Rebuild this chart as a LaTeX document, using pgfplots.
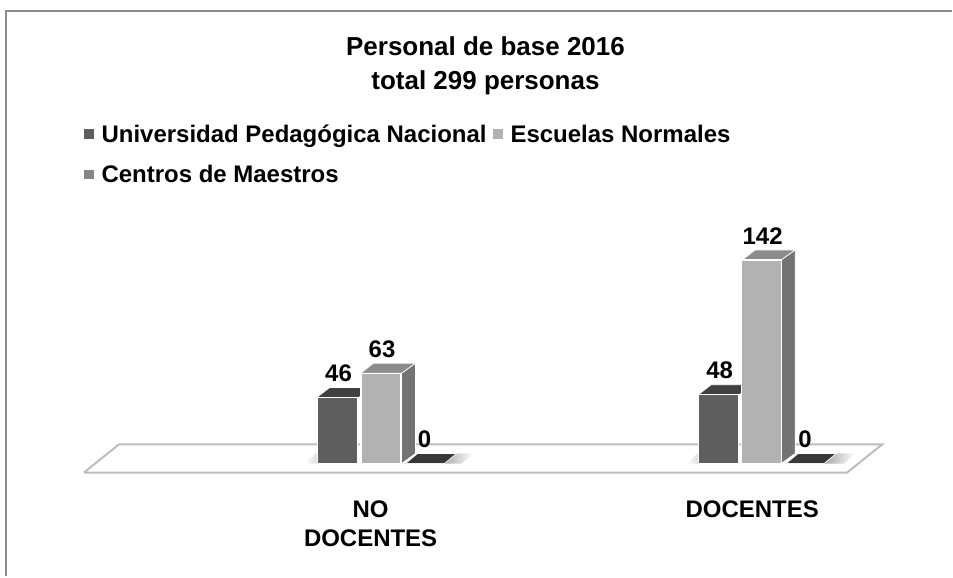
\documentclass[border=0pt]{standalone}
\usepackage{pgfplots}
\pgfplotsset{compat=1.18}
\usepackage{fontspec}
\setmainfont{Liberation Sans}
\definecolor{cA}{gray}{0.37}
\definecolor{cAt}{gray}{0.25}
\definecolor{cB}{gray}{0.70}
\definecolor{cBt}{gray}{0.55}
\definecolor{cBs}{gray}{0.45}
\definecolor{cC}{gray}{0.52}
\definecolor{cZ}{gray}{0.22}
\definecolor{fl}{gray}{0.74}
\definecolor{fr}{gray}{0.55}
\newcommand{\lab}{\fontsize{18pt}{21.5pt}\selectfont\bfseries}
\newcommand{\ttl}{\fontsize{19.5pt}{21.5pt}\selectfont\bfseries}
\newcommand{\st}{\rule[-4pt]{0pt}{18pt}}
\pgfplotsset{vals/.style={nodes near coords={\lab\pgfmathprintnumber[assume math mode=true]{\pgfplotspointmeta}},
  every node near coord/.append style={anchor=center, yshift=18pt, xshift=0.7pt, text=black}}}
\begin{document}
\begin{tikzpicture}
\begin{axis}[
  scale only axis, width=714.75pt, height=432.75pt,
  xmin=0, xmax=953, ymin=-78.74, ymax=323.35,
  hide axis, clip=false,
  ybar, bar shift=0pt, bar width=30pt,
  legend columns=2,
  legend style={at={(axis cs:84,215.7)}, anchor=west, draw=none, fill=none, font=\lab,
    inner sep=0pt, outer sep=0pt, row sep=10.75pt,
    /tikz/every even column/.append style={column sep=2.75pt}},
  legend cell align=left,
  legend image code/.code={\fill[#1,draw=none] (0pt,-3.7pt) rectangle (7.5pt,3.7pt);
    \path[draw=none,fill=none] (0pt,0pt) -- (11.25pt,0pt);},
]
\path (axis cs:0,-78.74) rectangle (axis cs:953,323.35);
% frame
\addplot[sharp plot, fr, line width=1.5pt, forget plot] coordinates {(6.5,-78.74) (6.5,315.7) (953,315.7)};
% floor
\addplot[sharp plot, draw=fl, line width=1.5pt, fill=white, forget plot] coordinates {(84,-6.3) (848,-6.3) (883,13.3) (119,13.3) (84,-6.3)};
% shadows on the floor
\addplot[sharp plot, draw=none, left color=white, right color=gray!55, forget plot] coordinates {(305,0) (318,0) (331,7) (316,7) (305,0)};
\addplot[sharp plot, draw=none, left color=white, right color=gray!55, forget plot] coordinates {(687,0) (700,0) (712,7) (698,7) (687,0)};
\addplot[sharp plot, draw=none, left color=gray!75, right color=white, forget plot] coordinates {(440,0) (462,0) (474,7) (452,7) (440,0)};
\addplot[sharp plot, draw=none, left color=gray!75, right color=white, forget plot] coordinates {(822,0) (845,0) (857,7) (834,7) (822,0)};
% top faces of the first series
\addplot[sharp plot, draw=white, line width=0.5pt, fill=cAt, forget plot] coordinates {(317,46) (359,46) (372,53) (330,53) (317,46)};
\addplot[sharp plot, draw=white, line width=0.5pt, fill=cAt, forget plot] coordinates {(699,48) (740,48) (753,55) (712,55) (699,48)};
% side faces of the second series
\addplot[sharp plot, draw=white, line width=0.5pt, fill=cBs, forget plot] coordinates {(402,0) (416,7) (416,70) (402,63) (402,0)};
\addplot[sharp plot, draw=white, line width=0.5pt, fill=cBs, forget plot] coordinates {(782,0) (796,7) (796,149) (782,142) (782,0)};
% top faces of the second series
\addplot[sharp plot, draw=white, line width=0.5pt, fill=cBt, forget plot] coordinates {(361,63) (402,63) (416,70) (374,70) (361,63)};
\addplot[sharp plot, draw=white, line width=0.5pt, fill=cBt, forget plot] coordinates {(743,142) (782,142) (796,149) (756,149) (743,142)};
% zero bars, lying flat
\addplot[sharp plot, draw=white, line width=0.5pt, fill=cZ, forget plot] coordinates {(406,0) (445,0) (457,7) (418,7) (406,0)};
\addplot[sharp plot, draw=white, line width=0.5pt, fill=cZ, forget plot] coordinates {(787,0) (825,0) (837,7) (799,7) (787,0)};
% front faces
\addplot[ybar, draw=white, line width=1pt, fill=cA, vals] coordinates {(338,46) (719.5,48)};
\addplot[ybar, draw=white, line width=1pt, fill=cB, vals] coordinates {(381.5,63) (762.5,142)};
\addplot[ybar, draw=none, fill=cC, vals] coordinates {(424,0) (805,0)};
\legend{\st Universidad Pedagógica Nacional, \st Escuelas Normales, \st Centros de Maestros}
% title and category labels
\node[font=\ttl, align=center, anchor=center] at (axis cs:486,277.2) {Personal de base 2016\\[4pt]total 299 personas};
\node[font=\lab, align=center, anchor=north] at (axis cs:371,-22.7) {NO\\DOCENTES};
\node[font=\lab, align=center, anchor=north] at (axis cs:753,-22.7) {DOCENTES};
\end{axis}
\end{tikzpicture}
\end{document}
